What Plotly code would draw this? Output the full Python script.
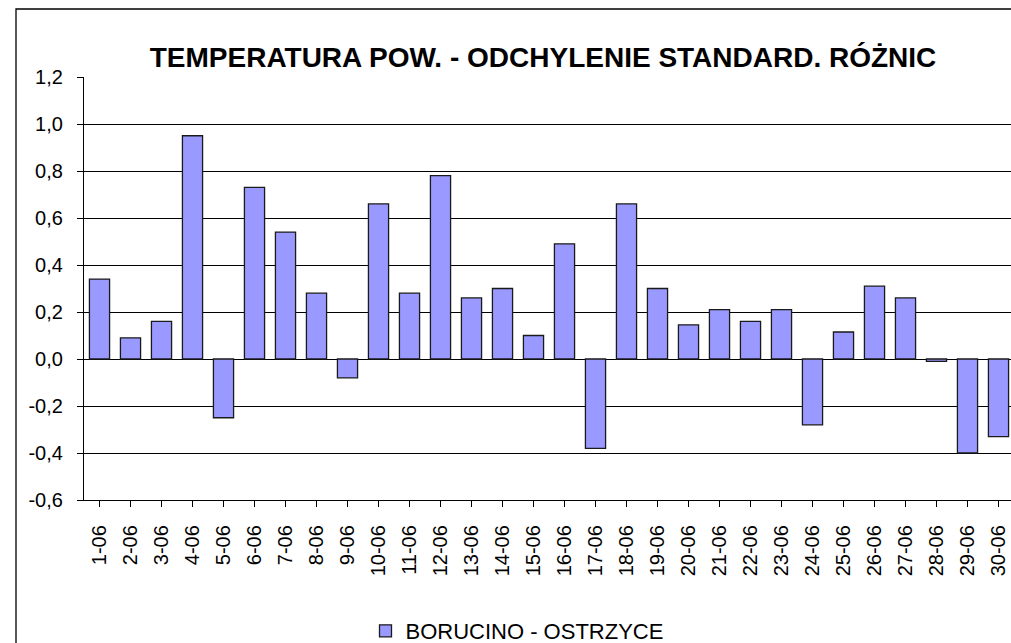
import plotly.graph_objects as go

categories = [f"{d}-06" for d in range(1, 31)]
values = [0.34, 0.09, 0.16, 0.95, -0.25, 0.73, 0.54, 0.28, -0.08, 0.66,
          0.28, 0.78, 0.26, 0.30, 0.10, 0.49, -0.38, 0.66, 0.30, 0.145,
          0.21, 0.16, 0.21, -0.28, 0.115, 0.31, 0.26, -0.01, -0.40, -0.33]
series_name = "BORUCINO - OSTRZYCE"
title_text = "TEMPERATURA POW. - ODCHYLENIE STANDARD. RÓŻNIC"
y_ticks = [-0.6, -0.4, -0.2, 0.0, 0.2, 0.4, 0.6, 0.8, 1.0, 1.2]
y_ticktext = ["-0,6", "-0,4", "-0,2", "0,0", "0,2", "0,4", "0,6", "0,8", "1,0", "1,2"]

W, H = 1011, 643
ML, MT, MB = 84, 77, 143
plot_w = W - ML
cat_w = 31.0

fig = go.Figure()
fig.add_trace(go.Bar(
    x=list(range(len(categories))), y=values, name=series_name,
    marker=dict(color="#9999FF", line=dict(color="#1a1a1a", width=1.3)),
    showlegend=True,
))

fig.update_layout(
    width=W, height=H,
    margin=dict(l=ML, r=0, t=MT, b=MB, autoexpand=False),
    paper_bgcolor="white", plot_bgcolor="white",
    bargap=0.35,
    font=dict(family="Liberation Sans, Arial, sans-serif", size=20, color="black"),
    title=dict(text="<b>" + title_text + "</b>",
               font=dict(family="Liberation Sans, Arial", size=28, color="black"),
               x=(543) / W, xanchor="center", y=1 - 57 / H, yanchor="middle"),
    xaxis=dict(
        range=[-0.5, -0.5 + plot_w / cat_w],
        tickmode="array", tickvals=list(range(len(categories))), ticktext=categories,
        tickangle=-90, ticks="outside", ticklen=6, tickcolor="black",
        tickson="boundaries", ticklabelstandoff=10,
        showline=True, linecolor="black", linewidth=1.3,
        showgrid=False, zeroline=False,
        tickfont=dict(size=20),
    ),
    yaxis=dict(
        range=[-0.6, 1.2],
        tickmode="array", tickvals=y_ticks, ticktext=y_ticktext,
        ticks="outside", ticklen=6, tickcolor="black", ticklabelstandoff=10,
        showline=True, linecolor="black", linewidth=1.3,
        showgrid=True, gridcolor="black", gridwidth=1,
        zeroline=True, zerolinecolor="black", zerolinewidth=1,
        tickfont=dict(size=20),
    ),
    legend=dict(orientation="h", xref="container", x=517 / W, xanchor="center",
                yref="container", y=1 - 631 / H, yanchor="middle",
                font=dict(size=22), bgcolor="rgba(0,0,0,0)",
                itemwidth=30),
    shapes=[dict(type="rect", xref="paper", yref="paper",
                 x0=(16 - ML) / plot_w, x1=1.05,
                 y0=-0.5, y1=1 + (MT - 9) / (H - MT - MB),
                 line=dict(color="black", width=1.3), fillcolor="rgba(0,0,0,0)",
                 layer="below")],
)

fig.write_html("out.html", config={"displayModeBar": False},
               post_script="document.body.style.margin='0';document.body.style.overflow='hidden';")
